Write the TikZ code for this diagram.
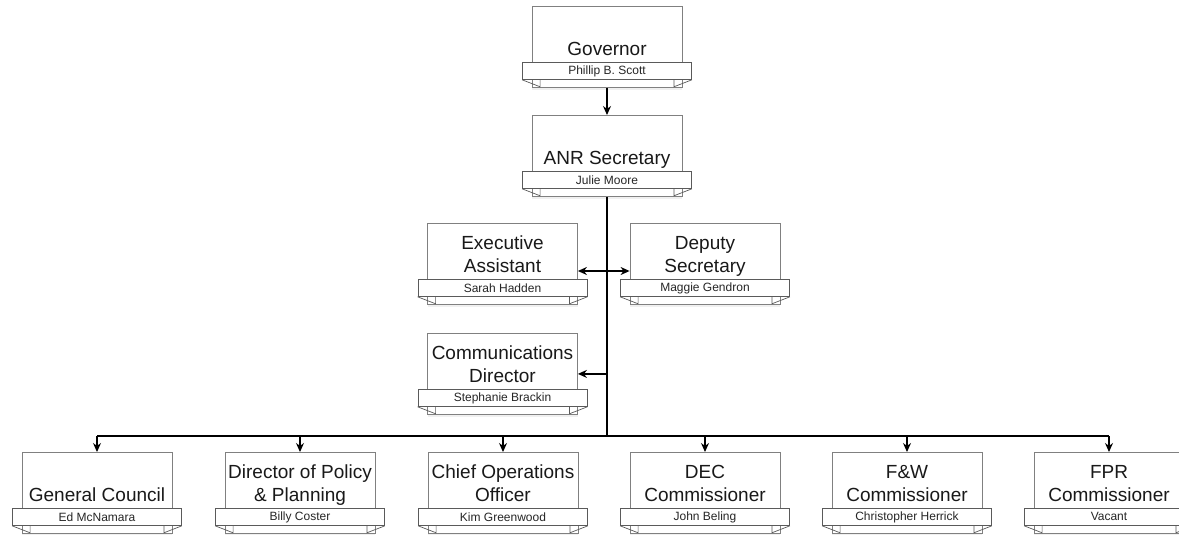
\documentclass[tikz,border=0pt]{standalone}
\usepackage{fontspec}
\setmainfont{Liberation Sans}
\usetikzlibrary{arrows.meta, positioning, shadows}
\definecolor{boxgray}{HTML}{808080}
\definecolor{bannergray}{HTML}{5A5A5A}
\tikzstyle{card} = [rectangle, draw=boxgray, fill=white, line width=0.8pt, minimum width=150pt, minimum height=81pt, anchor=north, inner sep=0pt, drop shadow={opacity=0.12, shadow xshift=0pt, shadow yshift=-3pt}]
\tikzstyle{heading} = [font=\fontsize{19}{23}\selectfont, align=center, text depth=0pt, inner sep=0pt, text=black!90]
\tikzstyle{banner} = [rectangle, draw=bannergray, fill=white, line width=0.8pt, minimum width=169pt, minimum height=17pt, inner sep=0pt, font=\fontsize{12}{14}\selectfont, text=black!85]
\tikzstyle{fold} = [draw=bannergray, line width=0.7pt]
\tikzstyle{arrow} = [line width=1.2pt, -{Stealth[length=9pt, width=8pt]}]
\tikzstyle{trunk} = [line width=2pt]
\begin{document}
\begin{tikzpicture}[x=1pt, y=-1pt]
    \path[use as bounding box, clip] (0,0) rectangle (1179,535);
    % Top
    \node (gov) [card] at (607,6) {};
    \node (govn) [banner, below=56pt of gov.north] {Phillip B. Scott};
    \node (govt) [heading, above=6pt of govn.north] {Governor};
    \node (anr) [card] at (607,115) {};
    \node (anrn) [banner, below=56pt of anr.north] {Julie Moore};
    \node (anrt) [heading, above=6pt of anrn.north] {ANR Secretary};
    % Staff
    \node (ea) [card] at (502.5,223) {};
    \node (ean) [banner, below=56pt of ea.north] {Sarah Hadden};
    \node (eat) [heading, above=6pt of ean.north] {Executive\\Assistant};
    \node (dep) [card] at (705,223) {};
    \node (depn) [banner, below=56pt of dep.north] {Maggie Gendron};
    \node (dept) [heading, above=6pt of depn.north] {Deputy\\Secretary};
    \node (com) [card] at (502.5,333) {};
    \node (comn) [banner, below=56pt of com.north] {Stephanie Brackin};
    \node (comt) [heading, above=6pt of comn.north] {Communications\\Director};
    % Bottom row
    \node (gc) [card] at (97,452) {};
    \node (gcn) [banner, below=56pt of gc.north] {Ed McNamara};
    \node (gct) [heading, above=6pt of gcn.north] {General Council};
    \node (dp) [card] at (300,452) {};
    \node (dpn) [banner, below=56pt of dp.north] {Billy Coster};
    \node (dpt) [heading, above=6pt of dpn.north] {Director of Policy\\\& Planning};
    \node (coo) [card] at (503,452) {};
    \node (coon) [banner, below=56pt of coo.north] {Kim Greenwood};
    \node (coot) [heading, above=6pt of coon.north] {Chief Operations\\Officer};
    \node (dec) [card] at (705,452) {};
    \node (decn) [banner, below=56pt of dec.north] {John Beling};
    \node (dect) [heading, above=6pt of decn.north] {DEC\\Commissioner};
    \node (fw) [card] at (907,452) {};
    \node (fwn) [banner, below=56pt of fw.north] {Christopher Herrick};
    \node (fwt) [heading, above=6pt of fwn.north] {F\&W\\Commissioner};
    \node (fpr) [card] at (1109,452) {};
    \node (fprn) [banner, below=56pt of fpr.north] {Vacant};
    \node (fprt) [heading, above=6pt of fprn.north] {FPR\\Commissioner};
    % Ribbon folds
    \foreach \n in {govn, anrn, ean, depn, comn, gcn, dpn, coon, decn, fwn, fprn} {
        \draw [fold] (\n.south west) -- ++(18pt,-7pt) -- ++(0pt,7pt);
        \draw [fold] (\n.south east) -- ++(-18pt,-7pt) -- ++(0pt,7pt);
    }
    % Lines
    \coordinate (bus) at (607,436);
    \coordinate (side) at (607,271);
    \draw [arrow] (gov) -- (anr);
    \draw [trunk] (anr.south) -- (bus);
    \draw [arrow, {Stealth[length=9pt, width=8pt]}-{Stealth[length=9pt, width=8pt]}] (ea.east |- side) -- (dep.west |- side);
    \draw [arrow] (anr.south |- com.east) -- (com.east);
    \draw [trunk] (gc.north |- bus) -- (fpr.north |- bus);
    \draw [arrow] (gc.north |- bus) -- (gc.north);
    \draw [arrow] (dp.north |- bus) -- (dp.north);
    \draw [arrow] (coo.north |- bus) -- (coo.north);
    \draw [arrow] (dec.north |- bus) -- (dec.north);
    \draw [arrow] (fw.north |- bus) -- (fw.north);
    \draw [arrow] (fpr.north |- bus) -- (fpr.north);
\end{tikzpicture}
\end{document}
